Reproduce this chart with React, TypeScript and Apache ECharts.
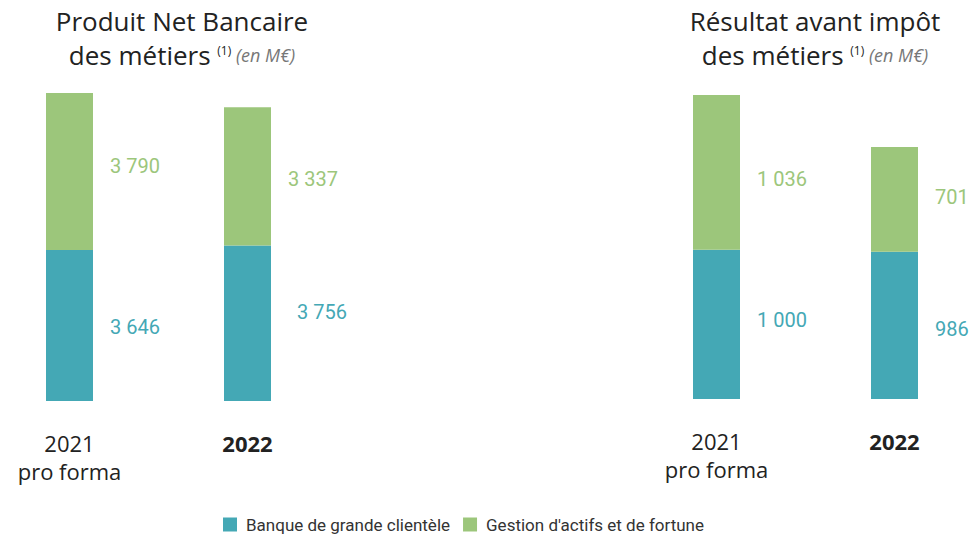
import React, { useEffect, useRef } from "react";
import * as echarts from "echarts";

const categories = ["2021\npro forma", "2022"];
const seriesNames = ["Banque de grande clientèle", "Gestion d'actifs et de fortune"];

// Produit Net Bancaire (M€)
const pnbBanque = [3646, 3756];
const pnbGestion = [3790, 3337];

// Résultat avant impôt (M€)
const raiBanque = [1000, 986];
const raiGestion = [1036, 701];

// small label nudges [dx, dy] to match the reference placement
const pnbBanqueNudge = [[0, 2], [9, -11]];
const pnbGestionNudge = [[0, -5], [0, 3]];
const raiBanqueNudge = [[0, -4], [0, 4]];
const raiGestionNudge = [[0, 7], [0, -2]];

const TEAL = "#44A8B5";
const GREEN = "#9CC67B";

const fmt = (v: number) => {
  const s = String(Math.round(v));
  return s.replace(/\B(?=(\d{3})+(?!\d))/g, " ");
};

function buildSeries(
  name: string,
  values: number[],
  nudges: number[][],
  color: string,
  idx: number,
  stack: string
) {
  return {
    type: "bar",
    name,
    stack,
    xAxisIndex: idx,
    yAxisIndex: idx,
    barWidth: 47,
    itemStyle: { color },
    data: values.map((v, i) => ({
      value: v,
      label: { offset: nudges[i] },
    })),
    label: {
      show: true,
      position: "right",
      distance: 17,
      color,
      fontFamily: "Roboto",
      fontSize: 20,
      formatter: (p: any) => fmt(p.value),
    },
  };
}

const axisLabelCfg = {
  interval: 0,
  margin: 28,
  formatter: (v: string) =>
    v === "2022"
      ? "{b|2022}"
      : v
          .split("\n")
          .map((l) => "{r|" + l + "}")
          .join("\n"),
  rich: {
    r: { fontFamily: "Open Sans", fontSize: 22, color: "#222", lineHeight: 28 },
    b: { fontFamily: "Open Sans", fontSize: 22, fontWeight: "bold", color: "#222", lineHeight: 28 },
  },
};

function titleLines(line1: string, cx: number) {
  return [
    {
      type: "text",
      x: cx,
      y: 21,
      style: {
        text: line1,
        align: "center",
        verticalAlign: "middle",
        fontFamily: "Open Sans",
        fontWeight: 500,
        fontSize: 26,
        fill: "#222",
      },
    },
    {
      type: "text",
      x: cx,
      y: 55,
      style: {
        text: "{a|des métiers }{s|(1)}{i| (en M€)}",
        align: "center",
        verticalAlign: "middle",
        rich: {
          a: { fontFamily: "Open Sans", fontWeight: 500, fontSize: 26, fill: "#222", color: "#222" },
          s: { fontFamily: "Open Sans", fontSize: 12, fill: "#222", color: "#222", padding: [0, 0, 9, 0] },
          i: { fontFamily: "Open Sans", fontSize: 18, fontStyle: "italic", fill: "#777", color: "#777" },
        },
      },
    },
  ];
}

export default function App() {
  const ref = useRef<HTMLDivElement>(null);
  useEffect(() => {
    document.body.style.margin = "0";
    if (!ref.current) return;
    const chart = echarts.init(ref.current, null, { renderer: "svg" });
    chart.setOption({
      animation: false,
      backgroundColor: "#fff",
      grid: [
        { left: 69.5, width: 178, top: 93, height: 308 },
        { left: 716.5, width: 178, top: 95, height: 304 },
      ],
      xAxis: [0, 1].map((i) => ({
        type: "category",
        gridIndex: i,
        data: categories,
        boundaryGap: false,
        axisLine: { show: false },
        axisTick: { show: false },
        splitLine: { show: false },
        axisLabel: axisLabelCfg,
      })),
      yAxis: [
        { type: "value", gridIndex: 0, min: 0, max: 7436, show: false, splitLine: { show: false } },
        { type: "value", gridIndex: 1, min: 0, max: 2036, show: false, splitLine: { show: false } },
      ],
      legend: {
        left: 223,
        top: 516,
        padding: 0,
        itemWidth: 14,
        itemHeight: 14,
        itemGap: 13,
        icon: "rect",
        data: seriesNames,
        textStyle: { fontFamily: "Roboto", fontSize: 17, color: "#333", padding: [0, 0, 0, 4] },
      },
      graphic: [
        ...titleLines("Produit Net Bancaire", 182),
        ...titleLines("Résultat avant impôt", 815),
      ],
      series: [
        buildSeries(seriesNames[0], pnbBanque, pnbBanqueNudge, TEAL, 0, "pnb"),
        buildSeries(seriesNames[1], pnbGestion, pnbGestionNudge, GREEN, 0, "pnb"),
        buildSeries(seriesNames[0], raiBanque, raiBanqueNudge, TEAL, 1, "rai"),
        buildSeries(seriesNames[1], raiGestion, raiGestionNudge, GREEN, 1, "rai"),
      ],
    });
    return () => chart.dispose();
  }, []);
  return <div ref={ref} style={{ width: 969, height: 535 }} />;
}
